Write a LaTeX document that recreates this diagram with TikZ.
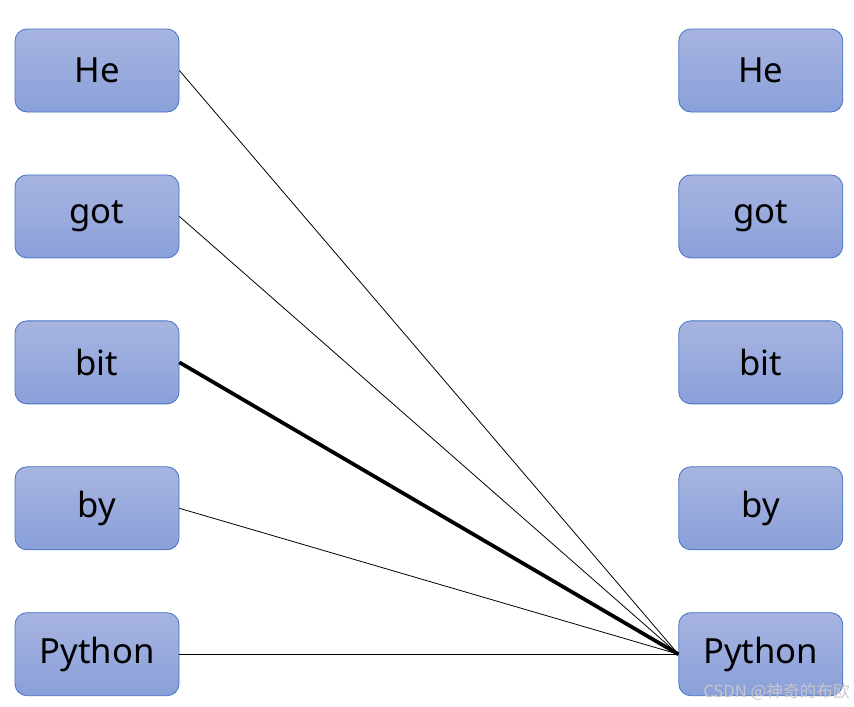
\documentclass[tikz,border=0pt]{standalone}
\usepackage{fontspec}
\setmainfont{Noto Sans}
\newfontfamily\cjk{Noto Sans CJK SC}
\usetikzlibrary{positioning}
\definecolor{boxtop}{HTML}{A7B4E0}
\definecolor{boxbot}{HTML}{8AA0DA}
\definecolor{boxline}{HTML}{4472C4}
\tikzset{wordbox/.style={draw=boxline,line width=0.6pt,rounded corners=9pt,top color=boxtop,bottom color=boxbot,minimum width=123pt,minimum height=62.25pt,inner sep=0pt,font=\fontsize{26}{30}\selectfont}}

\begin{document}
\begin{tikzpicture}[x=0.75pt,y=-0.75pt,node distance=46.6pt and 374.25pt]
	\useasboundingbox (0,0) rectangle (854,707);
	% left column
	\node[wordbox] (l1) at (97,70.5) {He};
	\node[wordbox,below=of l1] (l2) {got};
	\node[wordbox,below=of l2] (l3) {bit};
	\node[wordbox,below=of l3] (l4) {by};
	\node[wordbox,below=of l4] (l5) {Python};
	% right column
	\node[wordbox,right=of l1] (r1) {He};
	\node[wordbox,right=of l2] (r2) {got};
	\node[wordbox,right=of l3] (r3) {bit};
	\node[wordbox,right=of l4] (r4) {by};
	\node[wordbox,right=of l5] (r5) {Python};
	% links
	\draw[line width=0.6pt] (l1.east) -- (r5.west);
	\draw[line width=0.6pt] (l2.east) -- (r5.west);
	\draw[line width=2.8pt] (l3.east) -- (r5.west);
	\draw[line width=0.6pt] (l4.east) -- (r5.west);
	\draw[line width=0.6pt] (l5.east) -- (r5.west);
	\node[anchor=east,inner sep=0pt,text=white!55!gray,font=\cjk\fontsize{12.5}{14}\selectfont] (mark) at (850,692) {CSDN @神奇的布欧};
\end{tikzpicture}
\end{document}
